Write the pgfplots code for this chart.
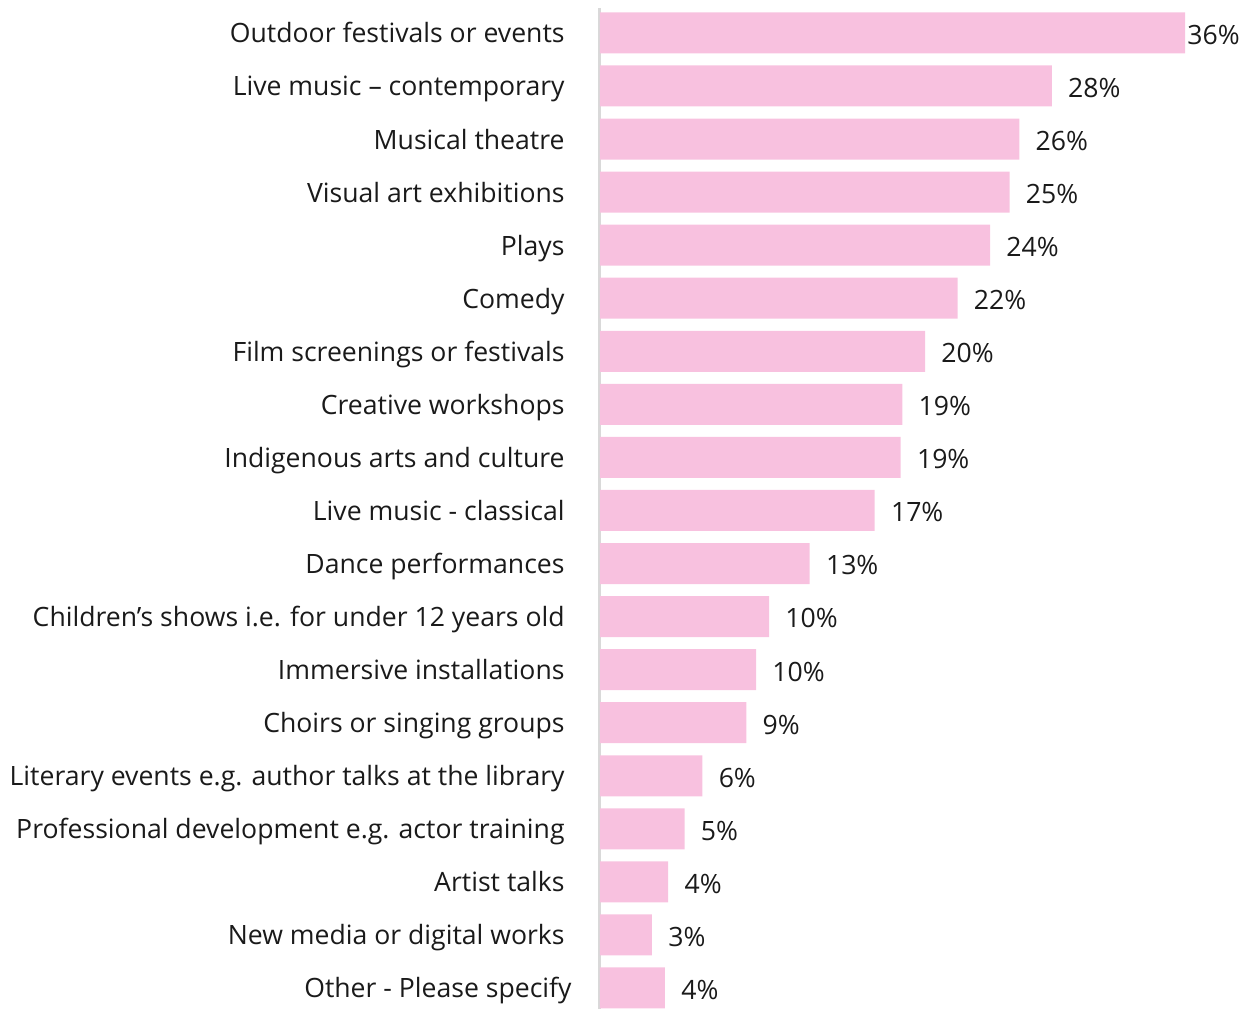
\documentclass[border=0pt]{standalone}
\usepackage{pgfplots}
\pgfplotsset{compat=1.18}
\usepackage{pgfplotstable}
\usepackage{fontspec}
\setmainfont{Open Sans}
\definecolor{barpink}{HTML}{F8C1DF}
\definecolor{axgray}{HTML}{D9D9D9}
\definecolor{txt}{HTML}{1A1A1A}
\pgfplotstableread{
y x lab off
18 36.0 36\% 1
17 27.8 28\% 8
16 25.8 26\% 8
15 25.2 25\% 8
14 24.0 24\% 8
13 22.0 22\% 8
12 20.0 20\% 8
11 18.6 19\% 8
10 18.5 19\% 8
9 16.9 17\% 8
8 12.9 13\% 8
7 10.4 10\% 8
6 9.6 10\% 8
5 9.0 9\% 8
4 6.3 6\% 8
3 5.2 5\% 8
2 4.2 4\% 8
1 3.2 3\% 8
0 4.0 4\% 8
}\datatable
\begin{document}
\begin{tikzpicture}
\begin{axis}[
  name=ax,
  at={(0,0)}, anchor=south west,
  scale only axis,
  width=320pt, height=500.5pt,
  xmin=0, xmax=39.38,
  ymin=-0.396, ymax=18.47,
  xbar, bar width=20.5pt,
  axis x line=none,
  axis y line*=left,
  y axis line style={axgray, line width=1.5pt, -},
  ytick={0,...,18},
  major tick length=0pt,
  yticklabels={Other - Please specify\hspace*{-3.5pt}, New media or digital works, Artist talks, Professional development e.g. actor training, Literary events e.g. author talks at the library, Choirs or singing groups, Immersive installations, Children’s shows i.e. for under 12 years old, Dance performances, Live music - classical, Indigenous arts and culture, Creative workshops, Film screenings or festivals, Comedy, Plays, Visual art exhibitions, Musical theatre, Live music – contemporary, Outdoor festivals or events},
  yticklabel style={font=\fontsize{13.3}{15}\selectfont, text=txt, inner xsep=0pt, xshift=-17.5pt, text height=9.5pt, text depth=2.5pt, yshift=-1.5pt},
  clip=false,
  nodes near coords,
  point meta=explicit symbolic,
  visualization depends on={\thisrow{off} \as \off},
  nodes near coords style={font=\fontsize{13.3}{15}\selectfont, text=txt, anchor=west, inner xsep=0pt, xshift=\off pt, text height=9.5pt, text depth=2.5pt, yshift=-2.2pt},
]
\addplot[fill=barpink, draw=none] table[x=x, y=y, meta=lab] {\datatable};
\end{axis}
\pgfresetboundingbox
\path (ax.south west) ++(-300pt,0) rectangle ++(626.5pt,504.5pt);
\end{tikzpicture}
\end{document}
